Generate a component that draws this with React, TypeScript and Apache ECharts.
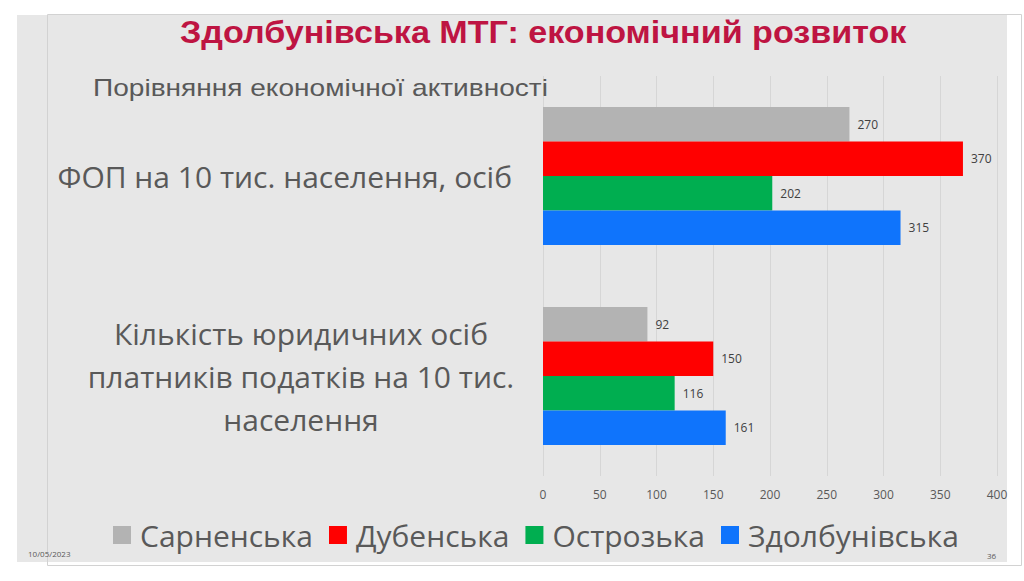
import React, { useEffect, useRef } from "react";
import * as echarts from "echarts";

const titleText = "Здолбунівська МТГ: економічний розвиток";
const subtitleText = "Порівняння економічної активності";
const categories = [
  "ФОП на 10 тис. населення, осіб",
  "Кількість юридичних осіб\nплатників податків на 10 тис.\nнаселення",
];
const seriesNames = ["Сарненська", "Дубенська", "Острозька", "Здолбунівська"];
const sarnenska = [270, 92];
const dubenska = [370, 150];
const ostrozka = [202, 116];
const zdolbunivska = [315, 161];
const seriesValues = [sarnenska, dubenska, ostrozka, zdolbunivska];
const seriesColors = ["#b3b3b3", "#ff0000", "#00ae50", "#0f74fc"];
const dateText = "10/05/2023";
const pageText = "36";

const FONT = "'Open Sans', sans-serif";
const ARIAL = "'Liberation Sans', Arial, sans-serif";

export default function App() {
  const ref = useRef<HTMLDivElement>(null);
  useEffect(() => {
    if (!ref.current) return;
    const chart = echarts.init(ref.current, null, { renderer: "svg" });
    chart.setOption({
      animation: false,
      backgroundColor: "#ffffff",
      graphic: [
        { type: "rect", z: 0, shape: { x: 17, y: 15, width: 990, height: 547 }, style: { fill: "#e7e7e7" } },
        { type: "rect", z: 0, shape: { x: 47.5, y: 14.5, width: 974, height: 551 }, style: { fill: "none", stroke: "#d2d2d2", lineWidth: 1 } },
        {
          type: "text", z: 1, x: 180, y: 33, scaleX: 1.1,
          style: { text: titleText, fontSize: 31, fontWeight: "bold", fill: "#be1442", fontFamily: ARIAL, textVerticalAlign: "middle", textAlign: "left" },
        },
        {
          type: "text", z: 1, x: 93, y: 88, scaleX: 1.17,
          style: { text: subtitleText, fontSize: 24, fill: "#595959", fontFamily: ARIAL, textVerticalAlign: "middle", textAlign: "left" },
        },
        { type: "text", z: 1, left: 28, top: 549, style: { text: dateText, fontSize: 8, fill: "#595959", fontFamily: FONT } },
        { type: "text", z: 1, left: 987, top: 551, style: { text: pageText, fontSize: 8, fill: "#595959", fontFamily: FONT } },
      ],
      legend: {
        data: seriesNames,
        left: 108,
        top: 515,
        itemWidth: 18,
        itemHeight: 18,
        itemGap: 16,
        icon: "rect",
        textStyle: { color: "#595959", fontSize: 30, fontFamily: FONT, padding: [0, 0, 0, 4] },
      },
      grid: { left: 543, right: 27, top: 76, bottom: 105, containLabel: false },
      xAxis: {
        type: "value",
        min: 0,
        max: 400,
        interval: 50,
        axisLine: { show: false },
        axisTick: { show: false },
        splitLine: { show: true, lineStyle: { color: "#d6d6d6", width: 1 } },
        axisLabel: { color: "#595959", fontSize: 12, margin: 12, fontFamily: FONT },
      },
      yAxis: {
        type: "category",
        inverse: true,
        data: categories,
        axisLine: { show: false },
        axisTick: { show: false },
        axisLabel: {
          margin: 31,
          color: "#595959",
          formatter: (value: string) => {
            const lines = value.split("\n");
            if (lines.length === 1) return "{a|" + value + "}";
            return lines.map((l) => "{b|" + l + "}").join("\n");
          },
          rich: {
            a: { fontSize: 30, color: "#595959", fontFamily: FONT, lineHeight: 40 },
            b: { fontSize: 30, color: "#595959", fontFamily: FONT, lineHeight: 43, width: 422, align: "center" },
          },
        },
      },
      series: seriesNames.map((name, i) => ({
        name,
        type: "bar",
        data: seriesValues[i],
        barGap: "0%",
        barCategoryGap: "31%",
        itemStyle: { color: seriesColors[i] },
        label: {
          show: true,
          position: "right",
          distance: 8,
          color: "#404040",
          fontSize: 12,
          fontFamily: FONT,
        },
      })),
    });
    return () => chart.dispose();
  }, []);
  return <div ref={ref} style={{ position: "fixed", left: 0, top: 0, width: 1024, height: 581 }} />;
}
